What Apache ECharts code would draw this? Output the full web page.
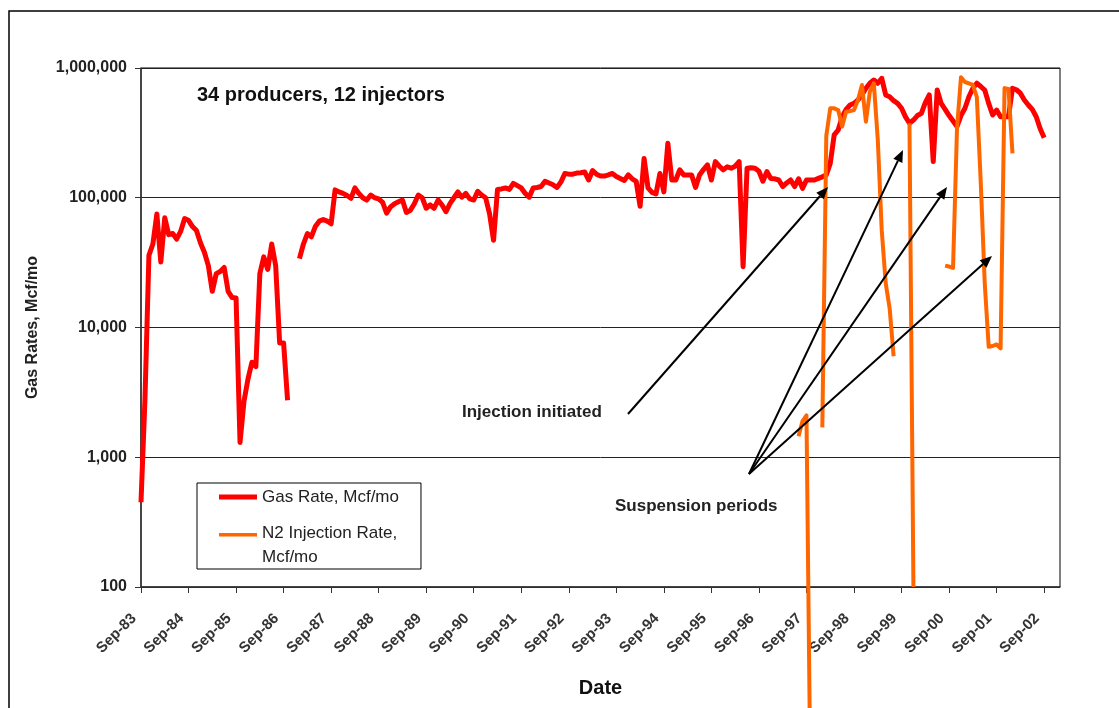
<!DOCTYPE html>
<html>
<head>
<meta charset="utf-8">
<title>Gas Rates</title>
<script src="https://cdn.jsdelivr.net/npm/echarts/dist/echarts.min.js"></script>
<style>
  html, body { margin: 0; padding: 0; background: #fff; }
  #chart { width: 1119px; height: 708px; }
</style>
</head>
<body>
<div id="chart"></div>
<script>
// monthly categories, Sep-83 .. Jan-03
const monthNames = ['Jan', 'Feb', 'Mar', 'Apr', 'May', 'Jun', 'Jul', 'Aug', 'Sep', 'Oct', 'Nov', 'Dec']
const months = []
for (let i = 0; i < 233; i++) {
  const m = (8 + i) % 12
  const y = 1983 + Math.floor((8 + i) / 12)
  months.push(monthNames[m] + '-' + String(y).slice(2))
}

// Gas Rate, Mcf/mo (one value per month)
const gasRate = [
  450, 2800, 36000, 44000, 75000, 32000, 70000, 52000, 53000, 48000,
  55000, 69000, 67000, 60000, 56000, 45000, 38000, 30000, 19000, 26000,
  27000, 29000, 19000, 17000, 16900, 1300, 2700, 4000, 5400, 5000,
  26000, 35000, 28000, 44000, 30000, 7600, 7600, 2750, null, null,
  34000, 44000, 53000, 50000, 60000, 66000, 68000, 66000, 63000, 115000,
  111000, 108000, 104000, 99000, 119000, 108000, 100000, 96000, 105000, 100000,
  98000, 92000, 76000, 85000, 90000, 93000, 96000, 77000, 80000, 90000,
  105000, 100000, 83000, 88000, 83000, 96000, 88000, 78000, 90000, 100000,
  111000, 101000, 108000, 98000, 96000, 112000, 105000, 100000, 75000, 47000,
  116000, 117000, 119000, 116000, 129000, 124000, 119000, 108000, 101000, 119000,
  120000, 122000, 134000, 130000, 126000, 120000, 132000, 154000, 152000, 152000,
  155000, 156000, 158000, 137000, 162000, 152000, 147000, 147000, 150000, 154000,
  146000, 141000, 136000, 150000, 140000, 134000, 86000, 201000, 119000, 110000,
  107000, 154000, 111000, 263000, 137000, 137000, 164000, 150000, 150000, 150000,
  120000, 150000, 165000, 179000, 137000, 190000, 175000, 164000, 173000, 169000,
  175000, 190000, 29400, 169000, 170000, 169000, 160000, 134000, 159000, 141000,
  140000, 137000, 122000, 130000, 137000, 122000, 140000, 118000, 137000, 137000,
  137000, 141000, 145000, 150000, 184000, 305000, 333000, 420000, 480000, 519000,
  534000, 567000, 620000, 698000, 763000, 808000, 763000, 833000, 620000, 601000,
  560000, 534000, 489000, 420000, 375000, 397000, 430000, 447000, 540000, 620000,
  190000, 676000, 534000, 480000, 430000, 390000, 354000, 430000, 489000, 600000,
  698000, 763000, 720000, 676000, 534000, 434000, 474000, 421000, 421000, 421000,
  698000, 680000, 640000, 567000, 519000, 480000, 421000, 340000, 290000,
  null, null, null, null
]

// N2 Injection Rate, Mcf/mo (months 166..220, rest blank)
const n2Start = 166
const n2Values = [
  1450, 1900, 2100, 3, null, null, 1700, 300000, 489000, 489000,
  474000, 354000, 460000, 465000, 474000, 567000, 740000, 386000, 657000, 763000,
  280000, 56000, 22000, 14000, 6000, null, null, null, 375000, 100,
  null, null, null, null, null, null, null, 30000, 29500, 28800,
  343000, 850000, 780000, 760000, 740000, 600000, 130000, 22000, 7100, 7200,
  7400, 6900, 700000, 690000, 220000
]
const n2Rate = months.map((m, i) => {
  const k = i - n2Start
  return k >= 0 && k < n2Values.length ? n2Values[k] : null
})

const gasName = 'Gas Rate, Mcf/mo'
const n2Name = 'N2 Injection Rate, Mcf/mo'
const FONT = '"Liberation Sans", Arial, sans-serif'

// annotation arrows in pixels: [x1, y1, x2, y2]
const arrows = [
  [628, 414, 828, 187],
  [749, 474, 903, 150],
  [749, 474, 947, 187],
  [749, 474, 992, 256],
]

function arrow(a) {
  const [x1, y1, x2, y2] = a
  const len = Math.hypot(x2 - x1, y2 - y1)
  const ux = (x2 - x1) / len
  const uy = (y2 - y1) / len
  const hl = 12
  const hw = 5
  const bx = x2 - ux * hl
  const by = y2 - uy * hl
  return [
    { type: 'line', z: 100, shape: { x1, y1, x2: bx, y2: by }, style: { stroke: '#000', lineWidth: 2 } },
    {
      type: 'polygon', z: 100,
      shape: { points: [[x2, y2], [bx - uy * hw, by + ux * hw], [bx + uy * hw, by - ux * hw]] },
      style: { fill: '#000' },
    },
  ]
}

const chart = echarts.init(document.getElementById('chart'))

const option = {
  backgroundColor: '#fff',
  animation: false,
  textStyle: { fontFamily: FONT },
  grid: {
    left: 141, right: 59, top: 68, bottom: 121,
    show: true, borderColor: '#000', borderWidth: 1,
  },
  legend: {
    orient: 'vertical',
    left: 197,
    top: 483,
    padding: [1, 22, 0, 22],
    itemGap: 11,
    itemWidth: 38,
    itemHeight: 26,
    borderColor: '#000',
    borderWidth: 1,
    backgroundColor: '#fff',
    itemStyle: { borderWidth: 0 },
    textStyle: { fontSize: 17, lineHeight: 24, color: '#222', fontFamily: FONT },
    formatter: (name) => (name === n2Name ? 'N2 Injection Rate,\nMcf/mo' : name),
    data: [
      {
        name: gasName,
        icon: 'path://M0,0h0.1v0.1h-0.1zM38,26h-0.1v-0.1h0.1zM0,10.5h38v5h-38z',
        itemStyle: { color: '#ff0000', borderWidth: 0 },
      },
      {
        name: n2Name,
        icon: 'path://M0,0h0.1v0.1h-0.1zM38,26h-0.1v-0.1h0.1zM0,1h38v3.5h-38z',
        itemStyle: { color: '#ff6600', borderWidth: 0 },
      },
    ],
  },
  xAxis: {
    type: 'category',
    data: months,
    boundaryGap: false,
    name: 'Date',
    nameLocation: 'middle',
    nameGap: 91,
    nameTextStyle: { fontSize: 20, fontWeight: 'bold', color: '#111', fontFamily: FONT },
    axisLine: { lineStyle: { color: '#333', width: 1.5 } },
    axisTick: { interval: 11, length: 6, lineStyle: { color: '#333' } },
    axisLabel: {
      interval: 11,
      rotate: 45,
      margin: 22,
      padding: [0, 10, 0, 0],
      fontSize: 15,
      fontWeight: 'bold',
      color: '#333',
      fontFamily: FONT,
    },
    splitLine: { show: false },
  },
  yAxis: {
    type: 'log',
    logBase: 10,
    min: 100,
    max: 1000000,
    name: 'Gas Rates, Mcf/mo',
    nameLocation: 'middle',
    nameRotate: 90,
    nameGap: 100,
    nameTextStyle: { fontSize: 16, fontWeight: 'bold', color: '#222', fontFamily: FONT },
    axisLine: { show: true, lineStyle: { color: '#333', width: 1.5 } },
    axisTick: { show: true, length: 6, lineStyle: { color: '#333' } },
    axisLabel: {
      margin: 14,
      fontSize: 16,
      fontWeight: 'bold',
      color: '#222',
      fontFamily: FONT,
      formatter: (v) => Number(v).toLocaleString('en-US'),
    },
    splitLine: { show: true, lineStyle: { color: '#222', width: 1 } },
  },
  series: [
    {
      name: gasName,
      type: 'line',
      data: gasRate,
      showSymbol: false,
      connectNulls: false,
      color: '#ff0000',
      lineStyle: { width: 5, color: '#ff0000', join: 'round' },
      z: 2,
    },
    {
      name: n2Name,
      type: 'line',
      data: n2Rate,
      showSymbol: false,
      connectNulls: false,
      clip: false,
      color: '#ff6600',
      lineStyle: { width: 4, color: '#ff6600', join: 'round' },
      z: 3,
    },
  ],
  graphic: [
    {
      type: 'rect', z: -1, silent: true,
      shape: { x: 9, y: 11, width: 1300, height: 900 },
      style: { fill: 'none', stroke: '#000', lineWidth: 1.5 },
    },
    {
      type: 'text', left: 197, top: 85, z: 100,
      style: { text: '34 producers, 12 injectors', fontSize: 20, fontWeight: 'bold', fill: '#111', fontFamily: FONT },
    },
    {
      type: 'text', left: 462, top: 404, z: 100,
      style: { text: 'Injection initiated', fontSize: 17, fontWeight: 'bold', fill: '#222', fontFamily: FONT },
    },
    {
      type: 'text', left: 615, top: 498, z: 100,
      style: { text: 'Suspension periods', fontSize: 17, fontWeight: 'bold', fill: '#222', fontFamily: FONT },
    },
    ...arrows.flatMap(arrow),
  ],
}

chart.setOption(option)
</script>
</body>
</html>
